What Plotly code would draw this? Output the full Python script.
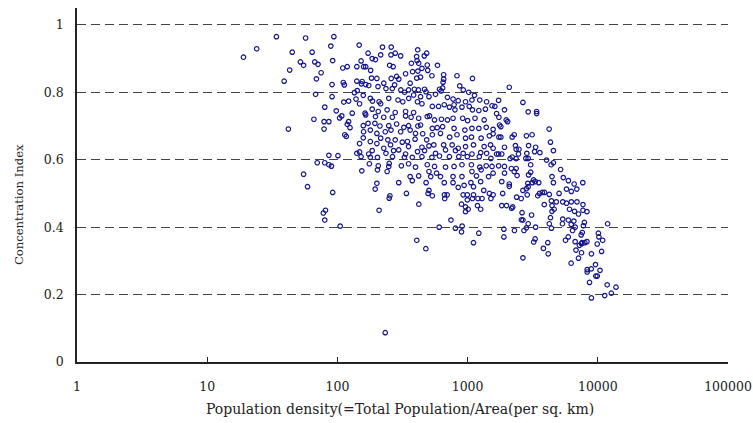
import plotly.graph_objects as go

# Population density (per sq. km) and concentration index
density = [
    19, 24, 34, 57, 94, 45, 64, 89, 147, 52, 55, 67, 71, 92, 43, 75, 39, 69, 110, 119,
    141, 152, 159, 91, 111, 113, 141, 155, 153, 68, 91, 135, 142, 158, 139, 148, 122, 112, 80, 98,
    163, 130, 66, 79, 86, 104, 108, 122, 119, 125, 42, 79, 158, 159, 114, 117, 158, 148, 141, 148,
    152, 86, 101, 70, 80, 86, 90, 154, 55,
    59, 92, 81, 78, 80, 105,
    233, 195, 209, 250, 253, 339, 422, 407, 478, 505, 497, 536, 664, 697, 667, 847, 745, 605, 806, 908,
    898, 1110, 1219, 898, 925, 995, 995, 964, 964, 1010, 1110, 1090, 1200, 1290, 1190, 1260, 1110, 1330, 1470, 1570,
    1510, 940,
    1900, 1900, 1830, 1990, 2180, 2220, 1860, 2090, 2380, 2580, 2660, 2830, 2870, 2920, 2620, 2590, 2660, 2920, 2830, 2710,
    2290, 2660, 3100, 3330, 3220, 3300, 3820, 4130, 4160, 3460, 3560, 3750, 3900, 3880, 4240, 4400, 4800, 4450, 4620, 4450,
    4330, 4240, 4400, 5040, 5750, 6260, 6900, 5380, 5750, 6260, 6920, 6060, 6620, 7110, 7690, 7690, 8250, 5380, 5940, 6550,
    5350, 6250, 6700, 6400, 7890, 7750, 7600, 7450, 5930, 5650, 6700, 7220, 7560, 7950, 8250, 7500, 6800, 7500, 7110, 6240,
    8930, 9900, 10200, 10100, 10900, 10700, 11900, 8290, 8290, 8900, 9600, 9660, 9900, 10400, 8640, 8930, 11800, 13800, 12700, 11300,
    2090, 1730, 2660, 1920, 2920, 3390, 3390, 1980, 2030, 1740, 1760, 1800, 4230, 1740, 1800, 2200, 2280, 2830, 3130, 4330,
    1920, 2330, 2360, 2480, 2940, 3330, 4560, 1730, 1830, 2460, 2850, 3270, 3590, 2120, 2200, 2360, 2800, 2920, 4040, 4560,
    4380, 3050, 5180, 1730, 1920, 2170, 2360, 1920, 2280, 2400, 3050, 2940, 4450, 5430, 5940, 6580, 7670, 3210, 3310, 3520,
    3140, 4560, 2900, 1830, 2090, 1670, 1670,
    222, 259, 414, 172, 185, 196, 215, 258, 278, 306, 406, 485, 465, 409, 421, 490, 370, 587, 252, 268,
    180, 334, 378, 415, 446, 494, 532, 655, 829, 655, 1090, 183, 201, 259, 285, 296, 407, 435, 227, 362,
    648, 275, 870, 926, 1020, 1130, 174, 205, 236, 264, 307, 328, 352, 390, 419, 467, 480, 608, 643, 625,
    567, 505, 435, 385, 700, 773, 847, 964, 1080, 1240, 1400, 1540, 179, 186, 209, 215, 248, 292, 318, 353,
    412, 446, 536, 598, 662, 725, 787, 800, 905, 1030, 1090, 1220, 1370, 1620, 185, 206, 241, 278, 334, 385,
    196, 227, 264, 334, 368, 421, 490, 510, 557, 630, 700, 773, 917, 1000, 1140, 1340, 172, 194, 212, 248,
    285, 324, 352, 415, 435, 536, 584, 643, 787, 953, 1080, 1220, 1390, 1570, 179, 201, 233, 258, 306, 362,
    398, 452, 536, 619, 728, 829, 964, 1070, 1270, 1470, 1570, 215, 244, 278, 345, 395, 485, 179, 201, 256,
    315, 505, 550, 655, 761, 847, 964, 1110, 1340, 1500, 227, 296, 352, 446, 185, 174, 236, 270, 334, 412,
    467, 567, 677, 807, 925, 1080, 1260, 1400, 1570, 179, 203, 265, 327, 376, 446, 532, 608, 725, 855,
    995, 1230, 1510, 176, 206, 250, 248, 310, 352, 398, 490, 557, 677, 787, 905, 1070, 1240, 1390, 1540,
    203, 241, 362, 421, 505, 521, 578, 619, 773, 905, 1080, 1170, 1270, 1450, 1570, 201, 296, 376, 480, 662,
    773, 1060, 1260, 165, 165, 165,
]
conc_index = [
    0.904, 0.929, 0.965, 0.961, 0.965, 0.919, 0.919, 0.937, 0.940, 0.890, 0.880, 0.890, 0.883, 0.894, 0.866, 0.858, 0.833, 0.840, 0.872, 0.876,
    0.876, 0.893, 0.876, 0.823, 0.829, 0.822, 0.833, 0.832, 0.825, 0.794, 0.787, 0.799, 0.805, 0.791, 0.780, 0.766, 0.774, 0.771, 0.756, 0.745,
    0.738, 0.738, 0.720, 0.713, 0.713, 0.724, 0.730, 0.713, 0.705, 0.695, 0.691, 0.691, 0.701, 0.683, 0.674, 0.669, 0.665, 0.648, 0.619, 0.623,
    0.609, 0.613, 0.612, 0.591, 0.591, 0.585, 0.581, 0.567, 0.557,
    0.520, 0.503, 0.450, 0.442, 0.421, 0.403,
    0.087, 0.513, 0.450, 0.486, 0.493, 0.500, 0.468, 0.361, 0.336, 0.509, 0.500, 0.493, 0.496, 0.496, 0.485, 0.518, 0.421, 0.400, 0.397, 0.403,
    0.386, 0.354, 0.382, 0.468, 0.496, 0.496, 0.481, 0.460, 0.446, 0.453, 0.496, 0.485, 0.485, 0.485, 0.464, 0.453, 0.520, 0.509, 0.500, 0.496,
    0.485, 0.524,
    0.394, 0.371, 0.464, 0.464, 0.456, 0.460, 0.500, 0.521, 0.489, 0.485, 0.509, 0.514, 0.496, 0.520, 0.443, 0.422, 0.421, 0.410, 0.398, 0.390,
    0.390, 0.309, 0.436, 0.400, 0.356, 0.365, 0.337, 0.354, 0.321, 0.493, 0.500, 0.503, 0.503, 0.467, 0.497, 0.478, 0.475, 0.464, 0.453, 0.447,
    0.428, 0.410, 0.397, 0.500, 0.513, 0.506, 0.513, 0.475, 0.471, 0.475, 0.475, 0.453, 0.447, 0.439, 0.467, 0.450, 0.446, 0.424, 0.421, 0.418,
    0.410, 0.408, 0.400, 0.390, 0.414, 0.404, 0.384, 0.377, 0.371, 0.361, 0.357, 0.346, 0.354, 0.354, 0.357, 0.351, 0.332, 0.324, 0.308, 0.293,
    0.321, 0.350, 0.371, 0.382, 0.361, 0.328, 0.410, 0.274, 0.267, 0.276, 0.289, 0.255, 0.255, 0.272, 0.236, 0.190, 0.229, 0.222, 0.204, 0.197,
    0.815, 0.776, 0.770, 0.748, 0.742, 0.743, 0.737, 0.718, 0.713, 0.726, 0.703, 0.698, 0.691, 0.667, 0.667, 0.667, 0.674, 0.671, 0.674, 0.652,
    0.637, 0.642, 0.631, 0.631, 0.642, 0.637, 0.627, 0.617, 0.617, 0.617, 0.619, 0.624, 0.621, 0.603, 0.608, 0.603, 0.604, 0.604, 0.599, 0.591,
    0.585, 0.585, 0.571, 0.582, 0.580, 0.574, 0.574, 0.560, 0.565, 0.553, 0.563, 0.555, 0.550, 0.547, 0.538, 0.528, 0.532, 0.540, 0.535, 0.532,
    0.532, 0.532, 0.530, 0.535, 0.528, 0.737, 0.617,
    0.934, 0.934, 0.926, 0.916, 0.900, 0.897, 0.911, 0.911, 0.916, 0.908, 0.906, 0.916, 0.908, 0.894, 0.886, 0.881, 0.886, 0.880, 0.880, 0.876,
    0.865, 0.855, 0.861, 0.863, 0.871, 0.865, 0.849, 0.852, 0.849, 0.839, 0.841, 0.842, 0.841, 0.841, 0.847, 0.839, 0.842, 0.845, 0.827, 0.827,
    0.830, 0.822, 0.819, 0.807, 0.800, 0.791, 0.820, 0.817, 0.811, 0.811, 0.807, 0.800, 0.807, 0.809, 0.807, 0.809, 0.801, 0.809, 0.813, 0.804,
    0.794, 0.787, 0.787, 0.792, 0.785, 0.780, 0.775, 0.772, 0.777, 0.777, 0.772, 0.760, 0.782, 0.774, 0.772, 0.766, 0.782, 0.777, 0.772, 0.782,
    0.772, 0.766, 0.758, 0.758, 0.763, 0.756, 0.763, 0.748, 0.756, 0.758, 0.748, 0.746, 0.750, 0.758, 0.750, 0.743, 0.748, 0.740, 0.743, 0.740,
    0.728, 0.726, 0.726, 0.730, 0.726, 0.723, 0.728, 0.730, 0.718, 0.720, 0.718, 0.723, 0.723, 0.716, 0.723, 0.718, 0.708, 0.708, 0.700, 0.701,
    0.706, 0.696, 0.701, 0.700, 0.703, 0.693, 0.695, 0.698, 0.693, 0.688, 0.693, 0.693, 0.696, 0.690, 0.688, 0.678, 0.683, 0.688, 0.683, 0.688,
    0.678, 0.677, 0.674, 0.678, 0.667, 0.674, 0.664, 0.667, 0.664, 0.671, 0.677, 0.664, 0.659, 0.659, 0.654, 0.661, 0.659, 0.654, 0.648, 0.644,
    0.652, 0.641, 0.644, 0.644, 0.644, 0.634, 0.639, 0.644, 0.639, 0.644, 0.634, 0.629, 0.639, 0.637, 0.627, 0.617, 0.619, 0.627, 0.617, 0.624,
    0.627, 0.619, 0.629, 0.627, 0.619, 0.617, 0.621, 0.619, 0.634, 0.607, 0.607, 0.609, 0.607, 0.607, 0.609, 0.607, 0.611, 0.609, 0.609,
    0.609, 0.609, 0.604, 0.588, 0.582, 0.589, 0.580, 0.582, 0.588, 0.578, 0.585, 0.580, 0.578, 0.580, 0.585, 0.585, 0.578, 0.582, 0.580,
    0.570, 0.565, 0.550, 0.552, 0.565, 0.550, 0.560, 0.550, 0.550, 0.550, 0.565, 0.552, 0.570, 0.550, 0.560, 0.530, 0.532, 0.538, 0.532, 0.532,
    0.532, 0.532, 0.535, 0.876, 0.823, 0.733,
]

y_ticks = [0, 0.2, 0.4, 0.6, 0.8, 1.0]
y_tick_labels = ["0", "0.2", "0.4", "0.6", "0.8", "1"]
x_ticks = [1, 10, 100, 1000, 10000, 100000]
x_tick_labels = ["1", "10", "100", "1000", "10000", "100000"]

n = min(len(density), len(conc_index))
FONT = "'DejaVu Serif', serif"

fig = go.Figure()
fig.add_trace(go.Scatter(
    x=density[:n], y=conc_index[:n], mode="markers",
    marker=dict(symbol="circle-open", size=4.5, color="#14148c", line=dict(width=1.2, color="#14148c")),
    showlegend=False, hoverinfo="x+y",
))

fig.update_layout(
    width=753, height=423,
    margin=dict(l=77, r=25, t=8, b=61, autoexpand=False),
    paper_bgcolor="white", plot_bgcolor="white",
    font=dict(family=FONT, size=13, color="#222"),
    xaxis=dict(
        type="log", range=[0, 5], tickvals=x_ticks, ticktext=x_tick_labels,
        showline=True, linecolor="#222", linewidth=1.5, mirror=False,
        ticks="inside", ticklen=5, tickcolor="#222", tickwidth=1,
        showgrid=False, zeroline=False, ticklabelstandoff=12, automargin=False,
        tickfont=dict(family=FONT, size=12.5, color="#222"),
    ),
    yaxis=dict(
        range=[0, 1.05], tickvals=y_ticks, ticktext=y_tick_labels,
        showline=True, linecolor="#222", linewidth=1.5,
        ticks="", showgrid=True, gridcolor="#444", gridwidth=1, griddash="9px,5px",
        zeroline=False, ticklabelstandoff=9, automargin=False,
        tickfont=dict(family=FONT, size=12.5, color="#222"),
    ),
    annotations=[
        dict(text="Population density(=Total Population/Area(per sq. km)",
             xref="paper", yref="paper", x=0.496, y=-0.133, showarrow=False,
             xanchor="center", yanchor="middle", font=dict(family=FONT, size=14, color="#222")),
        dict(text="Concentration Index", textangle=-90,
             xref="paper", yref="paper", x=-0.089, y=0.4435, showarrow=False,
             xanchor="center", yanchor="middle", font=dict(family=FONT, size=11.6, color="#222")),
    ],
)

fig.write_html("out.html")
